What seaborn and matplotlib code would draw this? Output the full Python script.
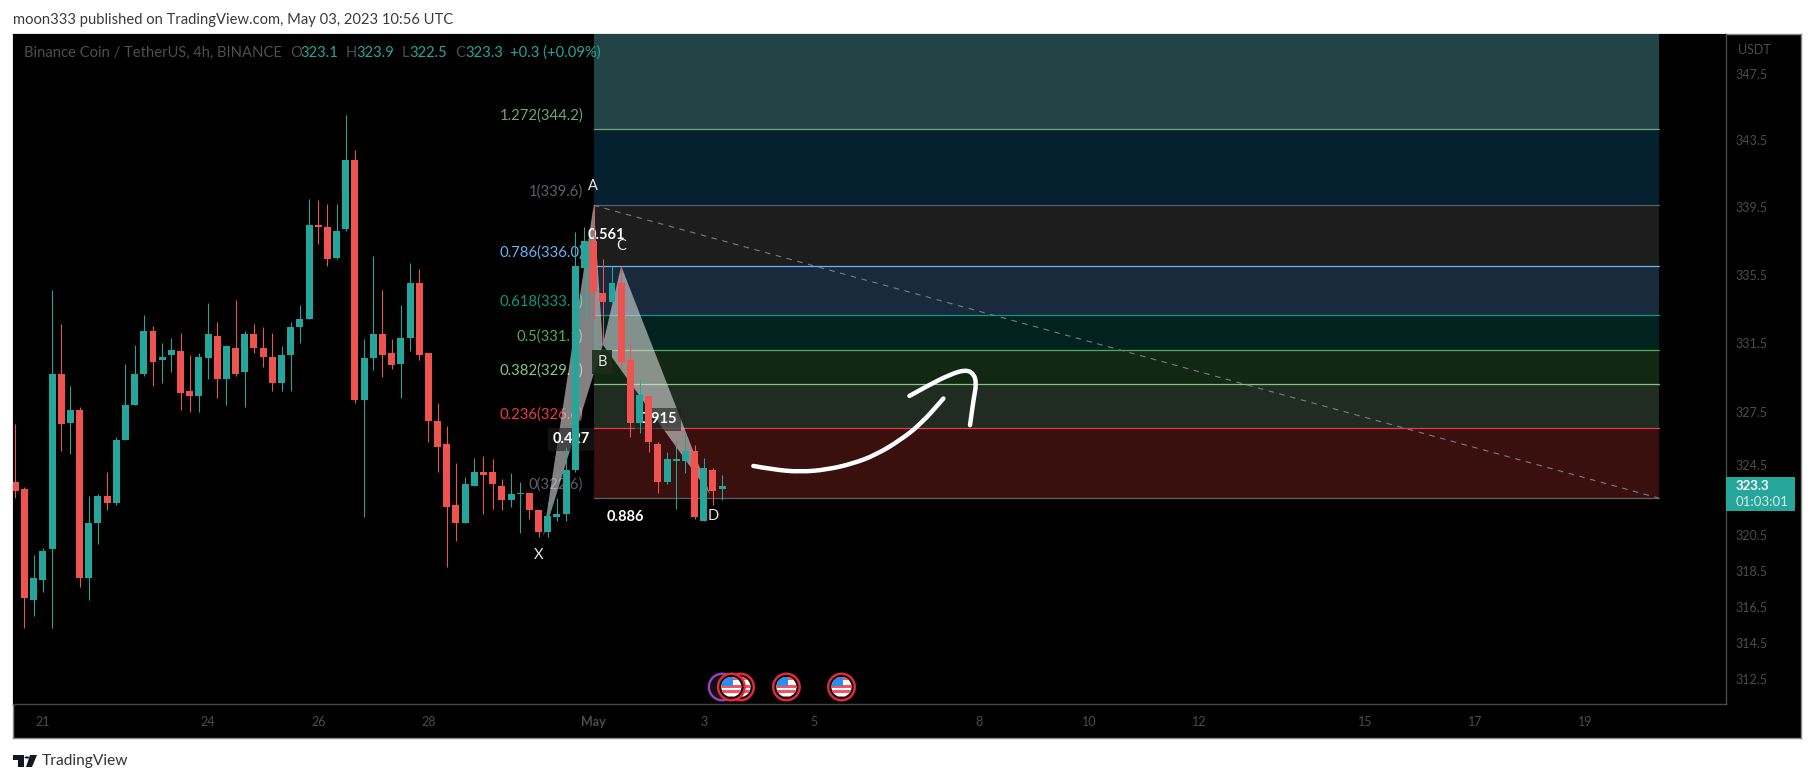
import numpy as np
import pandas as pd
import matplotlib
matplotlib.use('Agg')
import matplotlib.pyplot as plt
import seaborn as sns
from matplotlib.patches import Circle, PathPatch, Polygon, Rectangle
from matplotlib.path import Path
from matplotlib.transforms import IdentityTransform

# 4h candles
opens = [323.5, 323.1, 316.9, 318.0, 319.7, 329.7, 326.9, 327.6, 318.1, 321.2,
         322.7, 322.3, 325.9, 327.9, 329.7, 332.2, 330.5, 330.8, 331.0, 328.7,
         328.4, 330.6, 331.9, 329.4, 331.2, 329.8, 332.0, 331.2, 330.7, 329.2,
         330.8, 332.4, 332.9, 338.4, 338.3, 336.5, 338.2, 342.3, 328.2, 330.6,
         332.0, 330.9, 330.3, 331.8, 335.0, 330.9, 327.0, 325.7, 322.2, 321.2,
         323.3, 324.1, 324.1, 323.3, 322.5, 322.8, 322.9, 321.9, 320.7, 321.5,
         321.7, 324.2, 335.9, 337.5, 334.4, 333.9, 335.0, 330.5, 326.9, 328.4,
         325.7, 323.5, 324.7, 324.7, 325.3, 321.3, 324.2, 323.1]
highs = [326.8, 323.2, 319.4, 319.8, 334.6, 332.6, 329.0, 327.8, 322.7, 322.8,
         324.1, 326.1, 330.3, 331.4, 333.1, 332.5, 331.5, 331.8, 332.1, 330.8,
         330.9, 333.8, 332.7, 331.4, 334.0, 332.2, 332.6, 332.4, 332.1, 331.3,
         332.7, 333.7, 340.0, 339.9, 339.7, 339.7, 345.0, 342.9, 331.7, 336.6,
         334.6, 331.7, 333.7, 336.2, 335.8, 330.9, 328.0, 326.7, 324.6, 323.8,
         324.9, 325.0, 324.8, 323.7, 324.0, 323.5, 322.9, 321.9, 322.4, 322.6,
         325.5, 338.0, 338.3, 339.6, 336.4, 336.0, 336.0, 331.5, 329.4, 328.5,
         325.8, 325.2, 325.9, 326.3, 325.6, 324.9, 324.3, 323.9]
lows = [322.6, 315.3, 316.0, 317.3, 315.3, 325.3, 325.1, 317.6, 316.9, 320.0,
        321.9, 322.2, 325.9, 327.9, 329.6, 329.0, 329.2, 329.8, 327.6, 327.5,
        327.5, 329.4, 328.3, 327.9, 329.6, 327.8, 330.9, 330.1, 328.7, 328.7,
        328.7, 331.5, 332.9, 337.3, 336.0, 336.4, 338.1, 328.0, 321.5, 329.9,
        329.5, 330.0, 328.3, 331.0, 330.5, 325.8, 324.1, 318.7, 320.2, 321.2,
        323.3, 321.7, 322.0, 321.9, 322.1, 320.6, 321.4, 320.4, 320.4, 321.3,
        321.3, 324.1, 332.7, 332.9, 331.4, 333.9, 330.0, 326.1, 326.3, 325.2,
        322.9, 323.4, 322.0, 324.0, 321.4, 321.3, 322.2, 322.5]
closes = [323.0, 317.0, 318.1, 319.6, 329.7, 326.8, 327.6, 318.1, 321.2, 322.7,
          322.3, 325.9, 327.9, 329.7, 332.2, 330.4, 330.7, 331.1, 328.6, 328.4,
          330.7, 332.0, 329.4, 331.3, 329.7, 332.0, 331.2, 330.7, 329.2, 330.8,
          332.4, 332.9, 338.4, 338.3, 336.4, 338.1, 342.3, 328.2, 330.6, 332.0,
          330.8, 330.2, 331.8, 335.0, 330.8, 327.0, 325.5, 322.1, 321.2, 323.4,
          324.1, 323.9, 323.4, 322.5, 322.8, 322.9, 321.9, 320.7, 321.6, 321.7,
          324.2, 336.0, 337.5, 334.5, 333.9, 335.0, 330.4, 326.9, 328.5, 325.8,
          323.5, 324.8, 324.8, 325.3, 321.5, 324.3, 323.0, 323.3]

# fib levels, top to bottom
fib_prices = [344.2, 339.6, 336.0, 333.1, 331.1, 329.1, 326.6, 322.6]
fib_labels = ['1.272(344.2)', '1(339.6)', '0.786(336.0)', '0.618(333.1)',
              '0.5(331.1)', '0.382(329.1)', '0.236(326.6)', '0(322.6)']
fib_colors = ['#6ea870', '#5d606b', '#64b5f6', '#089981', '#4caf50', '#81c784',
              '#f23645', '#5d606b']
band_colors = ['#234446', '#05202f', '#1d1d1d', '#192a3d', '#01231f', '#132812',
               '#202c22', '#39100e']
fib_start = 63
fib_end = 179

# harmonic pattern pivots (bar, price)
xab_bars = [57.5, 63, 64]
xab_prices = [320.4, 339.6, 331.4]
bcd_bars = [64, 66, 75.7]
bcd_prices = [331.4, 336.0, 322.8]

# hand drawn arrow
stroke1_bars = [80.4, 82.6, 85.5, 88.4, 91.3, 93.8, 96.4, 98.7, 101.1]
stroke1_prices = [324.42, 324.21, 324.08, 324.21, 324.56, 325.07, 325.89, 326.84, 328.28]
stroke2_bars = [97.4, 99.6, 101.8, 103.5, 104.4, 104.7, 104.4, 104.0]
stroke2_prices = [328.43, 329.08, 329.66, 329.95, 329.72, 329.14, 328.28, 326.75]

price_ticks = [347.5, 343.5, 339.5, 335.5, 331.5, 327.5, 324.5, 320.5, 318.5, 316.5, 314.5, 312.5]
day_ticks = [3, 21, 33, 45, 63, 75, 87, 105, 117, 129, 147, 159, 171]
day_labels = ['21', '24', '26', '28', 'May', '3', '5', '8', '10', '12', '15', '17', '19']
# drawn back to front, the bar 78 flag sits on top of its neighbours
event_bars = [77, 79, 78, 84, 90]
event_rings = ['#9c3fc4', '#e5283a', '#e5283a', '#e5283a', '#e5283a']

GREEN = '#26a69a'
RED = '#ef5350'
GRID = '#4a4a4a'
AXIS_TEXT = '#4c4c4c'

sns.set_theme(style='dark')
plt.rcParams['font.family'] = ['Lato', 'DejaVu Sans']

W, H = 1814, 783
fig = plt.figure(figsize=(W / 100, H / 100), dpi=100, facecolor='white')


def fx(px):
    return px / W


def fy(py):
    return 1 - py / H


def box(x0, y0, x1, y1):
    return [fx(x0), fy(y1), fx(x1) - fx(x0), fy(y0) - fy(y1)]


# black frame behind the chart
frame = fig.add_axes(box(13, 34, 1800.5, 738), facecolor='black')
frame.set_xticks([])
frame.set_yticks([])
for s in frame.spines.values():
    s.set_color('#85858c')
    s.set_linewidth(1)

ax = fig.add_axes(box(13, 34, 1726, 704), facecolor='black')

df = pd.DataFrame({'bar': range(len(opens)), 'o': opens, 'h': highs, 'l': lows, 'c': closes})
df['top'] = df[['o', 'c']].max(axis=1)
df['bot'] = df[['o', 'c']].min(axis=1)
df['size'] = df['top'] - df['bot']
up = df[df.c >= df.o]
down = df[df.c < df.o]

for part, col in ((up, GREEN), (down, RED)):
    sns.barplot(data=part, x='bar', y='size', bottom=part['bot'].values, native_scale=True,
                color=col, saturation=1, width=0.76, linewidth=0, zorder=3, ax=ax)
    ax.vlines(part['bar'], part['l'], part['h'], color=col, linewidth=0.75, zorder=3)

ax.set_yscale('log')
ax.set_xlim(-0.25, 186.35)
ax.set_ylim(311.15, 349.96)
ax.set_xlabel('')
ax.set_ylabel('')

# fib bands and levels
uppers = [349.96] + fib_prices[:-1]
for upper, lower, band, line, label in zip(uppers, fib_prices, band_colors, fib_colors, fib_labels):
    ax.fill_between([fib_start, fib_end], lower, upper, color=band, linewidth=0, zorder=1)
    ax.plot([fib_start, fib_end], [lower, lower], color=line, linewidth=0.9, zorder=1.5)
    ax.annotate(label, xy=(fib_start, lower), xytext=(-7.6, 9.7), textcoords='offset points',
                ha='right', va='center', color=line, fontsize=10.7, zorder=2)

ax.plot([fib_start, fib_end], [fib_prices[1], fib_prices[-1]], color='#787b86',
        linewidth=0.8, linestyle=(0, (5, 5)), zorder=1.6)

# pattern triangles
ax.fill(xab_bars, xab_prices, color='#e0e0e0', alpha=0.58, linewidth=0, zorder=2.5)
ax.fill(bcd_bars, bcd_prices, color='#e0e0e0', alpha=0.58, linewidth=0, zorder=2.5)


# arrow
def smooth_stroke(bars, prices):
    pts = list(zip(bars, prices))
    verts = [pts[0]]
    codes = [Path.MOVETO]
    for a, b in zip(pts[1:-1], pts[2:]):
        verts += [a, ((a[0] + b[0]) / 2, (a[1] + b[1]) / 2)]
        codes += [Path.CURVE3, Path.CURVE3]
    verts.append(pts[-1])
    codes.append(Path.LINETO)
    return PathPatch(Path(verts, codes), facecolor='none', edgecolor='white', linewidth=3.2,
                     capstyle='round', joinstyle='round', zorder=5)


ax.add_patch(smooth_stroke(stroke1_bars, stroke1_prices))
ax.add_patch(smooth_stroke(stroke2_bars, stroke2_prices))

# economic event flags along the bottom
for n, (bar, col) in enumerate(zip(event_bars, event_rings)):
    z = 6 + n * 0.5
    cx, cy = ax.transData.transform((bar, 312.08))
    ax.add_patch(Circle((cx, cy), 13.3, transform=IdentityTransform(), facecolor='#111111',
                        edgecolor=col, linewidth=1.7, zorder=z))
    if bar == 77:
        continue
    disc = Circle((cx, cy), 10, transform=IdentityTransform(), facecolor='white', linewidth=0, zorder=z + 0.1)
    ax.add_patch(disc)
    for top in [10, 2, -3.5, -9]:
        r = Rectangle((cx - 11, cy + top - 3), 22, 3, transform=IdentityTransform(),
                      facecolor='#f7525f', linewidth=0, zorder=z + 0.2)
        ax.add_patch(r)
        r.set_clip_path(disc)
    c = Rectangle((cx - 11, cy + 1), 12.5, 10, transform=IdentityTransform(), facecolor='#2d8cf0',
                  linewidth=0, zorder=z + 0.3)
    ax.add_patch(c)
    c.set_clip_path(disc)

# axes
ax.yaxis.tick_right()
ax.set_yticks(price_ticks, [f'{p:.1f}' for p in price_ticks])
ax.minorticks_off()
ax.set_xticks(day_ticks, day_labels)
ax.tick_params(axis='y', length=0, pad=6.5, labelsize=9, labelcolor=AXIS_TEXT)
ax.tick_params(axis='x', length=0, pad=8.5, labelsize=9, labelcolor=AXIS_TEXT)
for t in ax.get_xticklabels():
    if t.get_text() == 'May':
        t.set_fontweight('bold')
ax.grid(False)
for name, s in ax.spines.items():
    s.set_visible(name in ('right', 'bottom'))
    s.set_color(GRID)
    s.set_linewidth(1)

# right hand strip
fig.text(fx(1738), fy(50), 'USDT', color=AXIS_TEXT, fontsize=9, va='center')
fig.add_artist(Rectangle((fx(1726), fy(511)), fx(69), fy(476.7) - fy(511), transform=fig.transFigure,
                         facecolor=GREEN, linewidth=0, zorder=5))
fig.text(fx(1736), fy(486), '323.3', color='white', fontsize=9.5, fontweight='bold', va='center', zorder=6)
fig.text(fx(1736), fy(502), '01:03:01', color='#d4eeeb', fontsize=9.5, va='center', zorder=6)

# pattern letters and ratios, the candles cover them
for px, py, s in [(593.3, 186, 'A'), (620.7, 246, 'C'), (713, 515.7, 'D'), (538.3, 555, 'X')]:
    ax.text(fx(px), fy(py), s, transform=fig.transFigure, color='#e8e8e8', fontsize=10.5,
            ha='center', va='center', zorder=2.8, clip_on=False)
ax.text(fx(602), fy(361.7), 'B', transform=fig.transFigure, color='#e4f0e0', fontsize=10.5,
        ha='center', va='center', zorder=2.8,
        bbox=dict(facecolor='#1b2c1b', edgecolor='none', alpha=0.9, pad=3.5))
for px, py, s, bg in [(606.7, 235, '0.561', None), (571, 439.3, '0.427', '#1d1d1d'),
                      (658, 419.3, '0.915', '#1d1d1d'), (625.7, 516.7, '0.886', None)]:
    kw = dict(bbox=dict(facecolor=bg, edgecolor='none', alpha=0.6, pad=3)) if bg else {}
    ax.text(fx(px), fy(py), s, transform=fig.transFigure, color='white', fontsize=10.5, fontweight='bold',
            ha='center', va='center', zorder=2.8, **kw)

# header and legend line
fig.text(fx(13), fy(20), 'moon333 published on TradingView.com, May 03, 2023 10:56 UTC',
         color='#3a3a3a', fontsize=10.6, va='center')
leg_y = fy(53)
fig.text(fx(23.5), leg_y, 'Binance Coin / TetherUS, 4h, BINANCE', color='#4f4f4f', fontsize=10.6, va='center')
for px, s, col in [(290, 'O', '#4f4f4f'), (300, '323.1', GREEN), (346, 'H', '#4f4f4f'), (356, '323.9', GREEN),
                   (402, 'L', '#4f4f4f'), (409, '322.5', GREEN), (455, 'C', '#4f4f4f'), (465, '323.3', GREEN),
                   (510, '+0.3 (+0.09%)', GREEN)]:
    fig.text(fx(px), leg_y, s, color=col, fontsize=10.6, va='center')

# footer logo
for pts in ([(13, 755), (24, 755), (24, 767), (18, 767), (18, 760), (13, 760)],
            [(30, 755), (37, 755), (32, 767), (26, 767)]):
    fig.add_artist(Polygon([(fx(a), fy(b)) for a, b in pts], transform=fig.transFigure,
                           facecolor='#131722', linewidth=0))
fig.add_artist(Circle((fx(27), fy(757.5)), 2.4 / W, transform=fig.transFigure, facecolor='#131722', linewidth=0))
fig.text(fx(42), fy(761.5), 'TradingView', color='#333333', fontsize=11.2, va='center')

fig.savefig('out.png', dpi=100, facecolor='white')
